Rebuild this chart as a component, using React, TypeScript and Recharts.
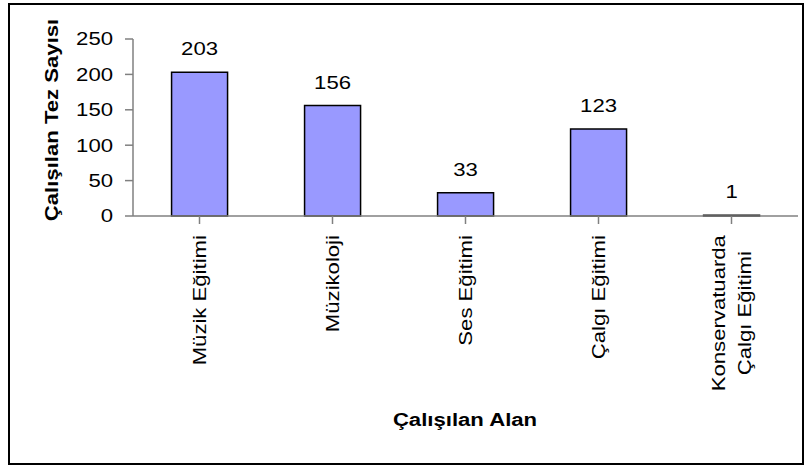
import { BarChart, Bar, XAxis, YAxis, LabelList, Label } from "recharts"

const areas = [
  "Müzik Eğitimi",
  "Müzikoloji",
  "Ses Eğitimi",
  "Çalgı Eğitimi",
  "Konservatuarda\nÇalgı Eğitimi",
]
const thesisCounts = [203, 156, 33, 123, 1]
const countTicks = [0, 50, 100, 150, 200, 250]

const data = areas.map((area, i) => ({ area, count: thesisCounts[i] }))

const FONT = "'Liberation Sans', Arial, sans-serif"
const FONT_SIZE = 18
// the original picture is stretched along the text direction
const STRETCH = 1.23

let ctx: CanvasRenderingContext2D | null = null
function measure(text: string) {
  if (!ctx) ctx = document.createElement("canvas").getContext("2d")
  if (!ctx) return text.length * FONT_SIZE * 0.5
  ctx.font = `${FONT_SIZE}px ${FONT}`
  return ctx.measureText(text).width
}

function Stretched({ x, y, rotate = 0, anchor = "middle", bold = false, dy, children }: any) {
  return (
    <g transform={`translate(${x},${y}) rotate(${rotate}) scale(${STRETCH},1)`}>
      <text
        x={0}
        y={0}
        dy={dy}
        textAnchor={anchor}
        fontFamily={FONT}
        fontSize={FONT_SIZE}
        fontWeight={bold ? "bold" : "normal"}
        fill="#000"
      >
        {children}
      </text>
    </g>
  )
}

function AreaTick({ x, y, payload }: any) {
  const lines = String(payload.value).split("\n")
  const longest = Math.max(...lines.map(measure))
  const lineHeight = 26
  return (
    <g transform={`translate(${x},${y + 9}) rotate(-90)`}>
      {lines.map((line, i) => (
        <g key={i} transform={`translate(${(-longest * STRETCH) / 2},${(i - (lines.length - 1) / 2) * lineHeight})`}>
          <Stretched x={0} y={0} dy="0.36em">
            {line}
          </Stretched>
        </g>
      ))}
    </g>
  )
}

function CountTick({ x, y, payload }: any) {
  return (
    <Stretched x={x} y={y} anchor="end" dy="0.36em">
      {payload.value}
    </Stretched>
  )
}

function ValueLabel({ x, y, width, value }: any) {
  return (
    <Stretched x={x + width / 2} y={y - 17}>
      {value}
    </Stretched>
  )
}

export default function App() {
  return (
    <div style={{ position: "absolute", left: 0, top: 0, width: 804, height: 467, background: "#fff" }}>
      <div
        style={{
          position: "absolute",
          left: 8,
          top: 3,
          width: 792,
          height: 458,
          border: "2px solid #000",
        }}
      />
      <div style={{ position: "absolute", left: 0, top: 0 }}>
        <BarChart
          width={804}
          height={467}
          data={data}
          margin={{ top: 39, right: 6, bottom: 221, left: 53 }}
          barCategoryGap="29%"
        >
          <XAxis
            dataKey="area"
            height={30}
            interval={0}
            tick={<AreaTick />}
            tickSize={8}
            tickMargin={2}
            stroke="#808080"
            strokeWidth={1.5}
          >
            <Label
              content={() => (
                <Stretched x={465} y={426} bold>
                  Çalışılan Alan
                </Stretched>
              )}
            />
          </XAxis>
          <YAxis
            width={80}
            domain={[0, 250]}
            ticks={countTicks}
            interval={0}
            tickSize={8}
            tickMargin={12}
            stroke="#808080"
            strokeWidth={1.5}
            tick={<CountTick />}
          >
            <Label
              content={() => (
                <Stretched x={58} y={120} rotate={-90} bold>
                  Çalışılan Tez Sayısı
                </Stretched>
              )}
            />
          </YAxis>
          <Bar dataKey="count" fill="#9999FF" stroke="#000" strokeWidth={1.5} isAnimationActive={false}>
            <LabelList dataKey="count" content={<ValueLabel />} />
          </Bar>
        </BarChart>
      </div>
    </div>
  )
}
